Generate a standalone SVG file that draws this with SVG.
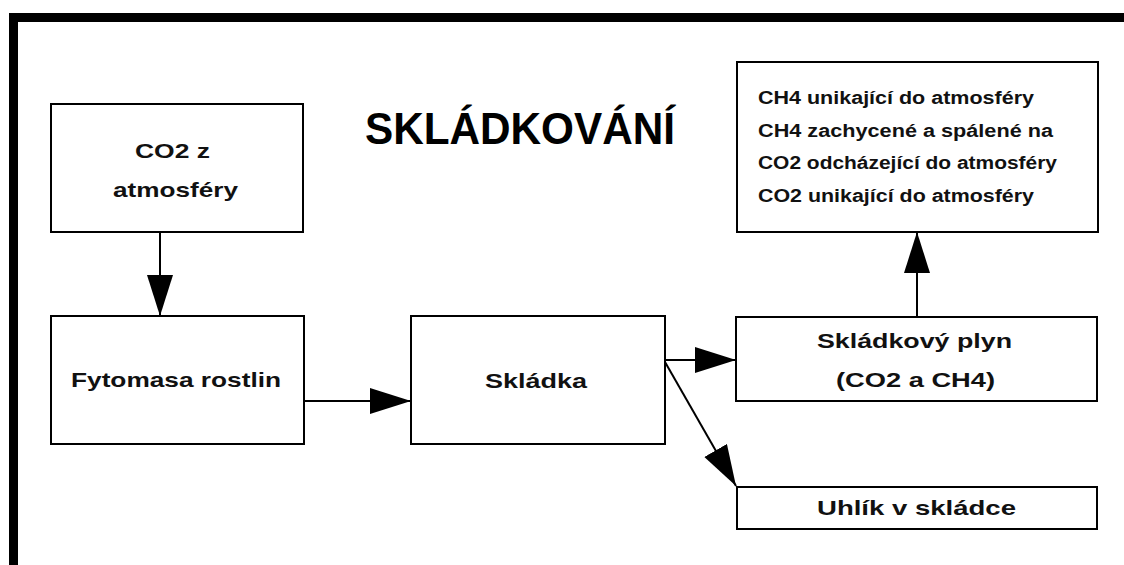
<svg xmlns="http://www.w3.org/2000/svg" width="1124" height="565" viewBox="0 0 1124 565">
<style>
.box{fill:#fff;stroke:#000;stroke-width:2}
.t{font-family:"Liberation Sans",Arial,sans-serif;font-weight:bold;font-size:21px;fill:#111;text-anchor:middle}
.s{font-family:"Liberation Sans",Arial,sans-serif;font-weight:bold;font-size:18px;fill:#111}
.c{stroke:#000;stroke-width:2;fill:none;marker-end:url(#ah)}
</style>
<defs>
<marker id="ah" markerUnits="userSpaceOnUse" markerWidth="44" markerHeight="28" refX="41" refY="13" orient="auto">
<path d="M0,0 L41,13 L0,26 Z" fill="#000"/>
</marker>
</defs>
<rect x="0" y="0" width="1124" height="565" fill="#fff"/>
<rect x="13.5" y="17.5" width="1200" height="600" fill="none" stroke="#000" stroke-width="9"/>
<text x="520" y="144" font-family="Liberation Sans,Arial,sans-serif" font-weight="bold" font-size="44" text-anchor="middle" textLength="310" lengthAdjust="spacingAndGlyphs">SKLÁDKOVÁNÍ</text>
<g id="connectors">
<line class="c" x1="160" y1="232" x2="160" y2="316"/>
<line class="c" x1="304" y1="401" x2="411" y2="401"/>
<line class="c" x1="665" y1="360" x2="736" y2="360"/>
<line class="c" x1="665" y1="362" x2="736" y2="486"/>
<line class="c" x1="917" y1="317" x2="917" y2="232"/>
</g>
<g id="co2-atmosfery">
<rect class="box" x="51" y="104" width="252" height="128"/>
<text class="t" x="172.5" y="158" textLength="75" lengthAdjust="spacingAndGlyphs">CO2 z</text>
<text class="t" x="175.5" y="197" textLength="125" lengthAdjust="spacingAndGlyphs">atmosféry</text>
</g>
<g id="fytomasa">
<rect class="box" x="51" y="316" width="253" height="128"/>
<text class="t" x="176" y="387" textLength="210" lengthAdjust="spacingAndGlyphs">Fytomasa rostlin</text>
</g>
<g id="skladka">
<rect class="box" x="411" y="316" width="254" height="128"/>
<text class="t" x="536" y="388" textLength="102" lengthAdjust="spacingAndGlyphs">Skládka</text>
</g>
<g id="skladkovy-plyn">
<rect class="box" x="736" y="317" width="361" height="84"/>
<text class="t" x="914.5" y="348" textLength="195" lengthAdjust="spacingAndGlyphs">Skládkový plyn</text>
<text class="t" x="915.5" y="387" textLength="159" lengthAdjust="spacingAndGlyphs">(CO2 a CH4)</text>
</g>
<g id="emise">
<rect class="box" x="737" y="62" width="361" height="170"/>
<text class="s" x="758" y="104" textLength="276" lengthAdjust="spacingAndGlyphs">CH4 unikající do atmosféry</text>
<text class="s" x="758" y="137" textLength="295" lengthAdjust="spacingAndGlyphs">CH4 zachycené a spálené na</text>
<text class="s" x="758" y="169" textLength="299" lengthAdjust="spacingAndGlyphs">CO2 odcházející do atmosféry</text>
<text class="s" x="758" y="202" textLength="276" lengthAdjust="spacingAndGlyphs">CO2 unikající do atmosféry</text>
</g>
<g id="uhlik">
<rect class="box" x="737" y="487" width="360" height="42"/>
<text class="t" x="916.5" y="515" textLength="199" lengthAdjust="spacingAndGlyphs">Uhlík v skládce</text>
</g>
</svg>
